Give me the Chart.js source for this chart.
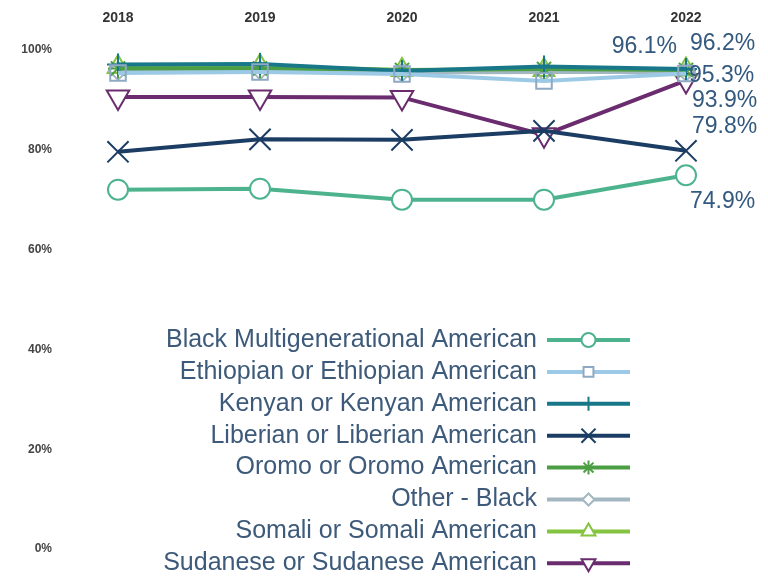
<!DOCTYPE html>
<html>
<head>
<meta charset="utf-8">
<script src="https://cdn.jsdelivr.net/npm/chart.js@4/dist/chart.umd.min.js"></script>
<style>
  html, body { margin: 0; padding: 0; background: #fff; }
</style>
</head>
<body>
<canvas id="chart" width="768" height="577"></canvas>
<script>
// data
const years = ["2018", "2019", "2020", "2021", "2022"];
const groups = [
  "Black Multigenerational American",
  "Ethiopian or Ethiopian American",
  "Kenyan or Kenyan American",
  "Liberian or Liberian American",
  "Oromo or Oromo American",
  "Other - Black",
  "Somali or Somali American",
  "Sudanese or Sudanese American"
];
const black_multi = [72.0, 72.2, 70.0, 70.0, 74.9];
const ethiopian = [95.4, 95.6, 95.2, 93.8, 95.3];
const kenyan = [97.1, 97.2, 95.8, 96.7, 96.2];
const liberian = [79.6, 82.1, 82.0, 83.8, 79.8];
const oromo = [96.3, 96.3, 96.0, 96.2, 96.0];
const other_black = [95.8, 95.9, 95.5, 95.6, 95.6];
const somali = [96.6, 96.8, 96.0, 96.0, 96.1];
const sudanese = [90.6, 90.6, 90.5, 83.0, 93.9];
const y_ticks = [0, 20, 40, 60, 80, 100];

const series = [black_multi, ethiopian, kenyan, liberian, oromo, other_black, somali, sudanese];
const colors = ["#4db38e", "#9ccae6", "#18788a", "#1c3d63", "#4c9e44", "#a3b7c2", "#84c441", "#6a2c6e"];
const marker_colors = ["#4db38e", "#8ea9c4", "#18788a", "#1c3d63", "#4c9e44", "#a3b7c2", "#84c441", "#6a2c6e"];
const styles = ["circle", "rect", "cross", "crossRot", "star", "rectRot", "triangle", "triangle"];
const rotations = [0, 0, 0, 0, 0, 0, 0, 180];
const radii = [10, 11, 11, 15, 10, 9, 12, 13];
const fills = ["#fff", "rgba(0,0,0,0)", "rgba(0,0,0,0)", "rgba(0,0,0,0)", "rgba(0,0,0,0)", "rgba(0,0,0,0)", "rgba(0,0,0,0)", "#fff"];

// which series carry a value label at 2022, and where it sits
const end_labels = {
  0: { dx: 4, dy: 26, align: "left" },
  1: { dx: 3, dy: 2, align: "left" },
  2: { dx: 4, dy: -25, align: "left" },
  3: { dx: 6, dy: -24, align: "left" },
  6: { dx: -9, dy: -23, align: "right" },
  7: { dx: 6, dy: 20, align: "left" }
};

const FONT = "'Liberation Sans', Arial, sans-serif";

const endLabelPlugin = {
  id: "endLabels",
  afterDatasetsDraw(chart) {
    const ctx = chart.ctx;
    ctx.save();
    ctx.font = "23px " + FONT;
    ctx.fillStyle = "#34597f";
    ctx.textBaseline = "middle";
    Object.keys(end_labels).forEach((k) => {
      const i = Number(k);
      const cfg = end_labels[k];
      const pt = chart.getDatasetMeta(i).data[years.length - 1];
      const v = chart.data.datasets[i].data[years.length - 1];
      ctx.textAlign = cfg.align;
      ctx.fillText(v.toFixed(1) + "%", pt.x + cfg.dx, pt.y + cfg.dy);
    });
    ctx.restore();
  }
};

// legend: text right aligned, line with marker to the right of it
const legendPlugin = {
  id: "sideLegend",
  afterDraw(chart) {
    const ctx = chart.ctx;
    const text_right = 537;
    const line_x0 = 547;
    const line_x1 = 630;
    const top = 340;
    const step = 31.9;
    ctx.save();
    chart.data.datasets.forEach((ds, i) => {
      const y = top + i * step;
      ctx.font = "25px " + FONT;
      ctx.fillStyle = "#3d5a7a";
      ctx.textAlign = "right";
      ctx.textBaseline = "middle";
      ctx.fillText(ds.label, text_right, y);

      ctx.strokeStyle = ds.borderColor;
      ctx.lineWidth = 4;
      ctx.beginPath();
      ctx.moveTo(line_x0, y);
      ctx.lineTo(line_x1, y);
      ctx.stroke();

      ctx.fillStyle = "#fff";
      ctx.strokeStyle = ds.pointBorderColor;
      ctx.lineWidth = 2;
      Chart.helpers.drawPoint(ctx, {
        pointStyle: ds.pointStyle,
        rotation: ds.pointRotation,
        radius: Math.round(ds.pointRadius * 0.65),
        borderWidth: 2
      }, (line_x0 + line_x1) / 2, y);
    });
    ctx.restore();
  }
};

const datasets = groups.map((name, i) => ({
  label: name,
  data: series[i],
  borderColor: colors[i],
  backgroundColor: colors[i],
  borderWidth: 4,
  pointStyle: styles[i],
  pointRotation: rotations[i],
  pointRadius: radii[i],
  pointBorderWidth: 2,
  pointBorderColor: marker_colors[i],
  pointBackgroundColor: fills[i],
  tension: 0
}));

new Chart(document.getElementById("chart"), {
  type: "line",
  data: { labels: years, datasets: datasets },
  options: {
    responsive: false,
    animation: false,
    layout: { padding: { left: 0, right: 82, top: 0, bottom: 28 } },
    plugins: {
      legend: { display: false },
      tooltip: { enabled: false }
    },
    scales: {
      x: {
        position: "top",
        grid: { display: false, drawTicks: false },
        border: { display: false },
        ticks: {
          color: "#333",
          font: { family: FONT, size: 14, weight: "bold" },
          padding: 23
        },
        afterFit: (s) => { s.height = 50; }
      },
      y: {
        min: 0,
        max: 100,
        grid: { display: false, drawTicks: false },
        border: { display: false },
        afterBuildTicks: (s) => { s.ticks = y_ticks.map((v) => ({ value: v })); },
        ticks: {
          color: "#444",
          font: { family: FONT, size: 12, weight: "bold" },
          padding: 66,
          callback: (v) => v + "%"
        },
        // tick padding also feeds the top/bottom padding; drop that
        afterFit: (s) => { s.width = 118; s.paddingTop = 0; s.paddingBottom = 0; }
      }
    }
  },
  plugins: [endLabelPlugin, legendPlugin]
});
</script>
</body>
</html>
